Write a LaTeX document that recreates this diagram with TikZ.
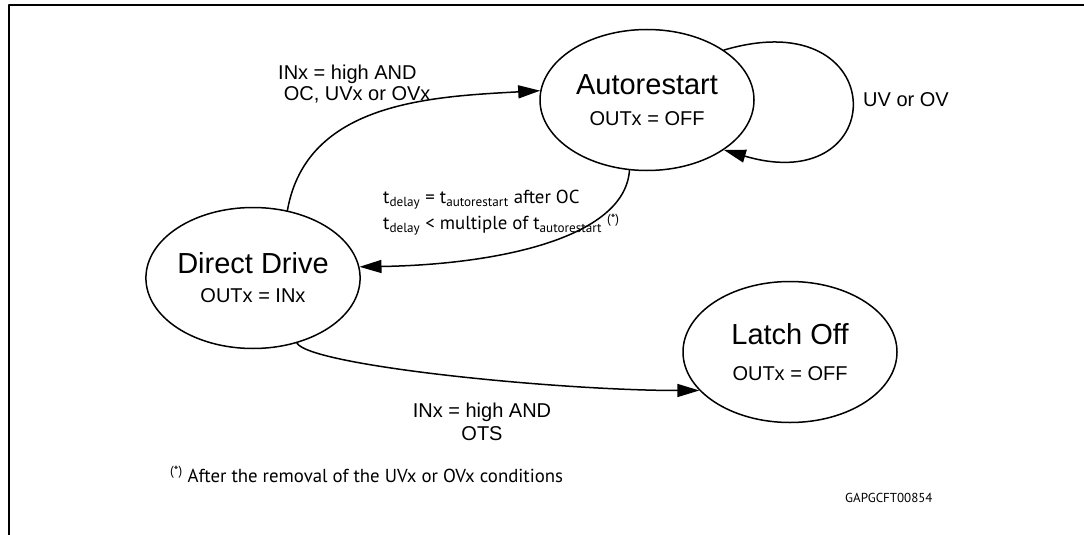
\documentclass[tikz,border=0pt]{standalone}
\usepackage{fontspec}
\setmainfont{Liberation Sans}
\newfontfamily\notefont{PT Sans}
\usetikzlibrary{shapes.geometric,arrows.meta}

\tikzset{
  state/.style={draw,ellipse,line width=1.5pt,minimum width=214pt,minimum height=141pt,inner sep=0pt,align=center,font=\fontsize{20}{29}\selectfont},
  lbl/.style={inner sep=0pt,font=\fontsize{20}{21}\selectfont},
  note/.style={inner sep=0pt,font=\notefont\fontsize{18.8}{26}\selectfont},
}

\begin{document}
\begin{tikzpicture}[line cap=round,line join=round,>={Triangle[length=22pt,width=13pt]},x=1pt,y=-1pt]
		\clip (0,0) rectangle (1084,535);
		\draw [line width=2.5pt] (1090,5) -- (9,5) -- (9,540);
		\node[state] (ar) at (647,100) {{\fontsize{29}{29}\selectfont Autorestart}\\[2pt]OUTx = OFF};
		\node[state] (dd) at (253,278) {{\fontsize{29}{29}\selectfont Direct Drive}\\OUTx = INx};
		\node[state] (lo) at (790,352) {{\fontsize{29}{29}\selectfont Latch Off}\\[7pt]OUTx = OFF};
		\draw [line width=1.5pt,->] (dd.63) .. controls +(19,-108) and +(-110,6) .. (ar.175);
		\draw [line width=1.5pt,->] (ar.256) .. controls +(-5,70) and +(131,-2) .. (dd.6);
		\draw [line width=1.5pt,->] (dd.-56) .. controls +(14,23) and +(-140,0) .. (lo.203);
		\draw [line width=1.5pt,->] (ar.33) .. controls +(169,-50) and +(169,50) .. (ar.-33);
		\node[lbl,anchor=north west,align=left] (l_in) at (278,64.5) {INx = high AND\\\hspace*{5.6pt}OC, UVx or OVx};
		\node[lbl,anchor=west] (l_uv) at (863,100) {UV or OV};
		\node[lbl,anchor=north,align=center,font=\fontsize{20}{23}\selectfont] (l_ots) at (482,402.5) {INx = high AND\\OTS};
		\node[note,anchor=north west,align=left] (l_delay) at (383,190) {t\textsubscript{delay} = t\textsubscript{autorestart} after OC\\t\textsubscript{delay} < multiple of t\textsubscript{autorestart} \textsuperscript{(*)}};
		\node[note,anchor=base west] (l_note) at (170,482) {\textsuperscript{(*)} After the removal of the UVx or OVx conditions};
		\node[note,anchor=base west,font=\notefont\fontsize{13}{14}\selectfont] (l_code) at (845,502) {GAPGCFT00854};
	\end{tikzpicture}
\end{document}
